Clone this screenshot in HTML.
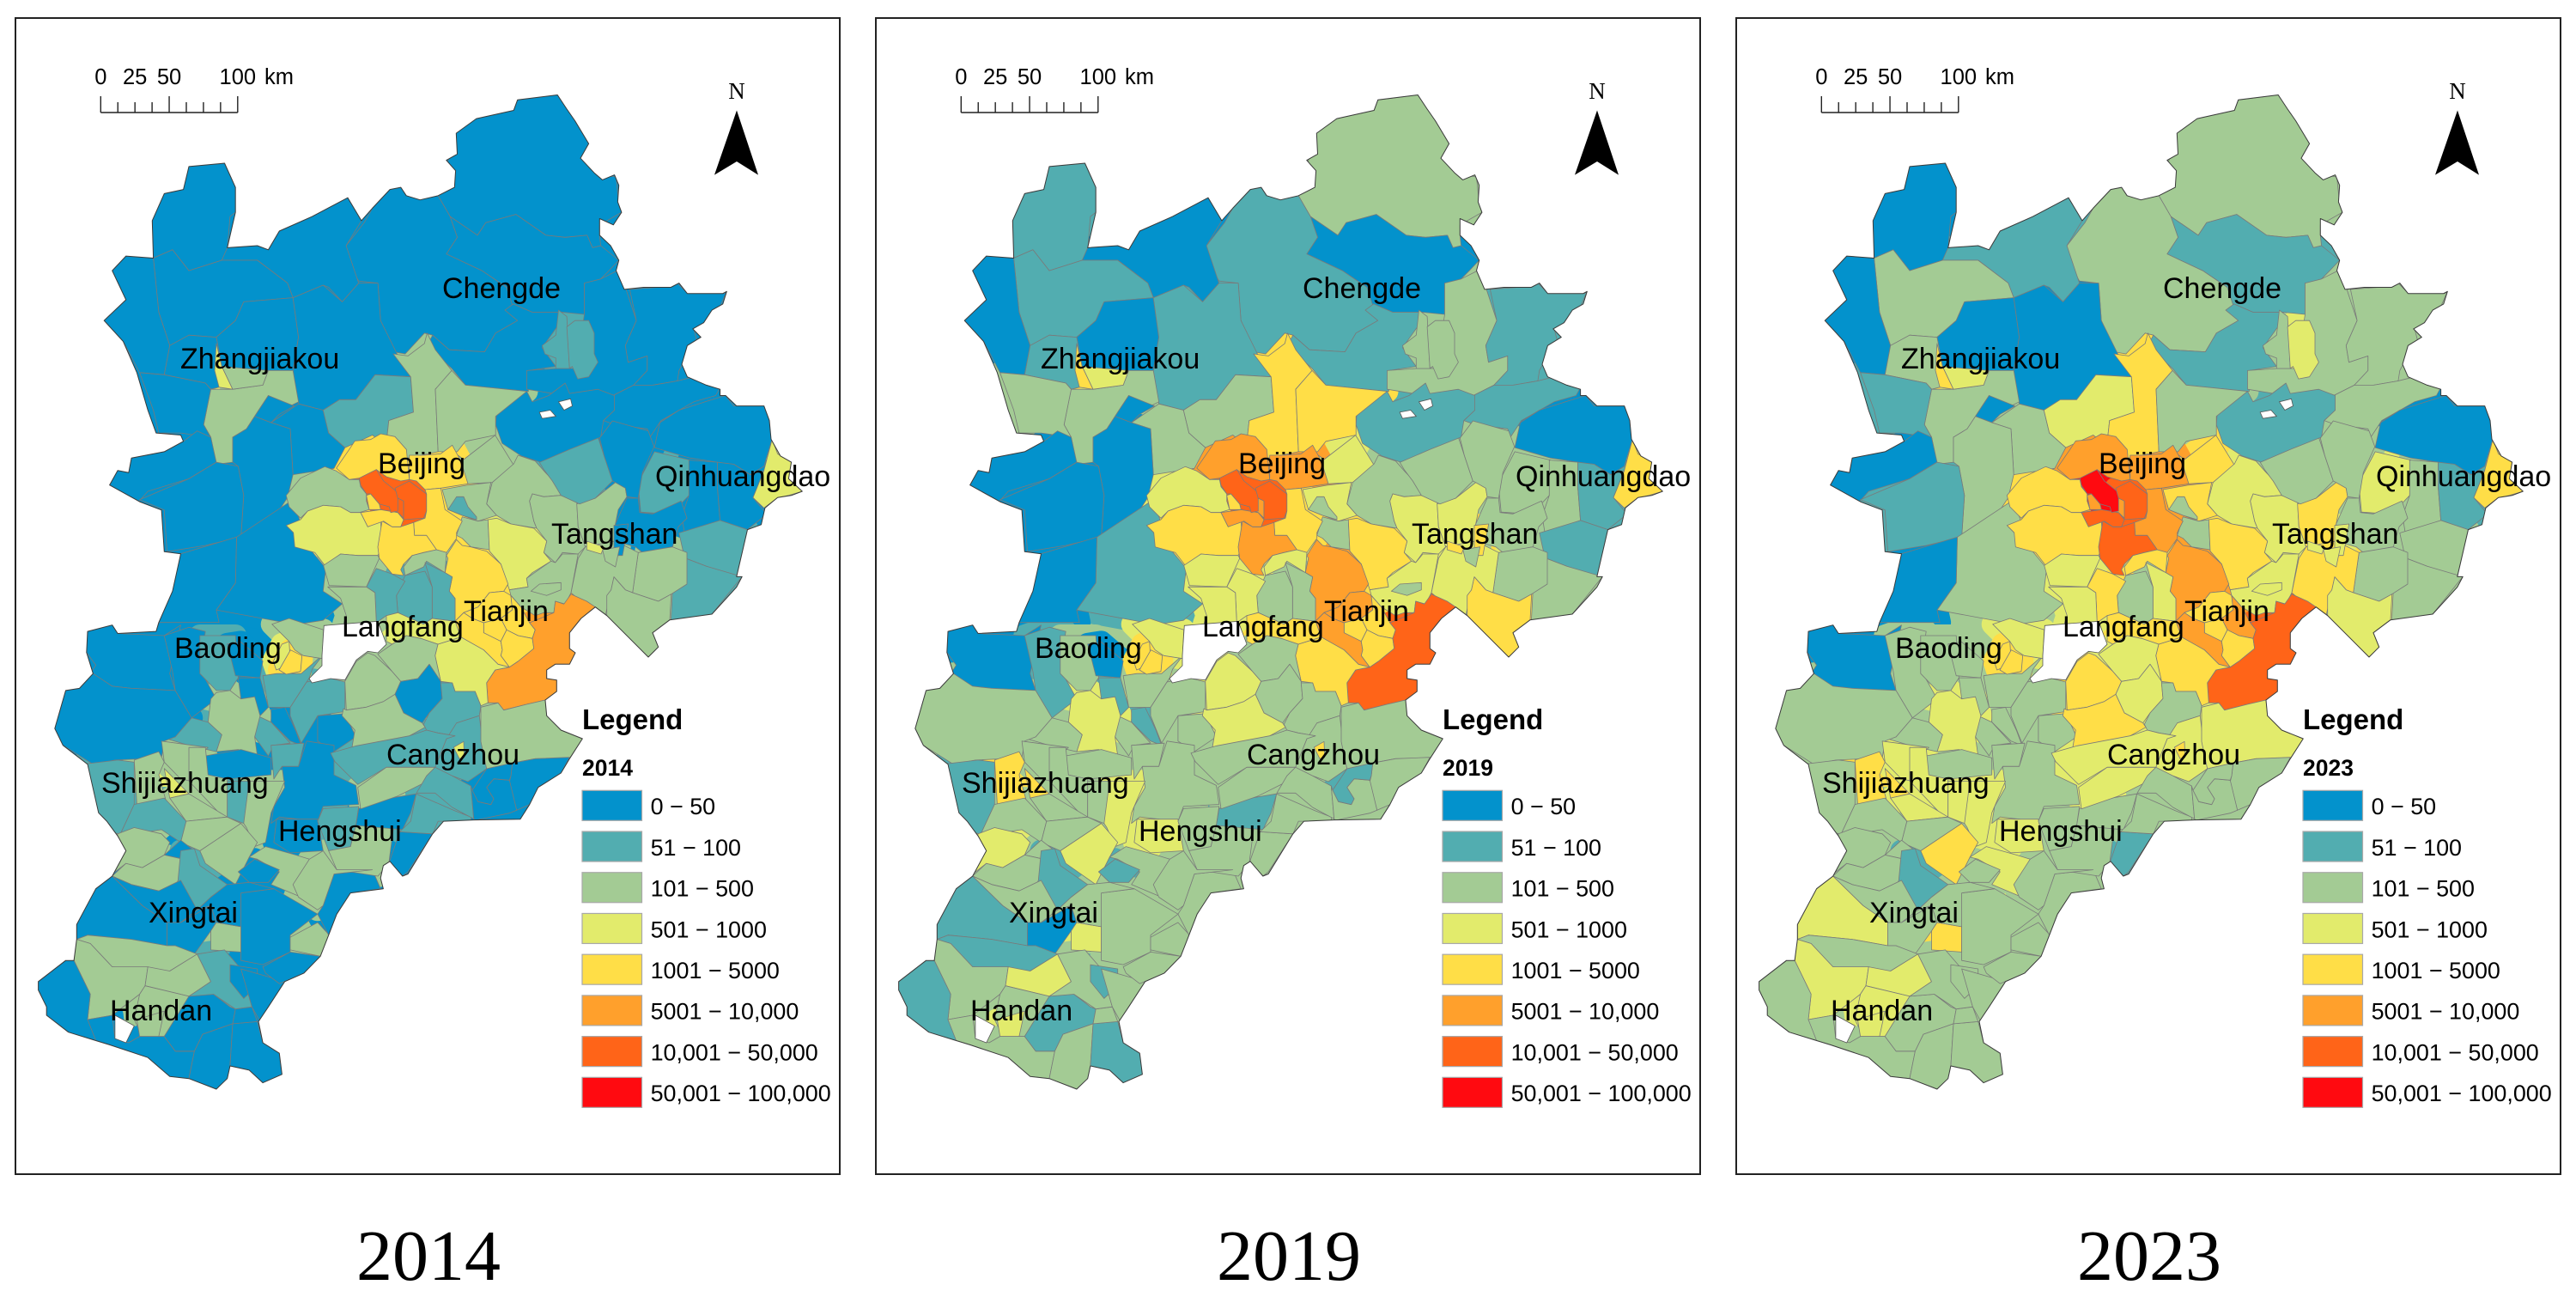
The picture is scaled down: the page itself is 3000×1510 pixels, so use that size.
<!DOCTYPE html>
<html lang="en">
<head>
<meta charset="utf-8">
<title>Choropleth maps 2014, 2019, 2023</title>
<style>
html,body{margin:0;padding:0;background:#fff;}
svg{display:block;}
text{font-family:"Liberation Sans",sans-serif;fill:#000;}
.serif{font-family:"Liberation Serif",serif;}
</style>
</head>
<body>
<svg id="figure" xmlns="http://www.w3.org/2000/svg" width="3000" height="1510" viewBox="0 0 3000 1510">
<rect x="0" y="0" width="3000" height="1510" fill="#fff"/>
</svg>
<script>
// ---------- chart data ----------
const years = [2014, 2019, 2023];
const classLabels = ["0 − 50","51 − 100","101 − 500","501 − 1000","1001 − 5000","5001 − 10,000","10,001 − 50,000","50,001 − 100,000"];
const classUpperBounds = [50,100,500,1000,5000,10000,50000,100000];
const classColors = ["#0392cc","#52adb0","#a3cb94","#e2eb6c","#ffde47","#ffa02c","#ff6418","#ff0a10"];
const scaleLabels = ["0","25","50","100"];
const scaleValues = [0,25,50,100];
const cityLabels = ["Zhangjiakou","Chengde","Beijing","Qinhuangdao","Tangshan","Tianjin","Langfang","Baoding","Cangzhou","Shijiazhuang","Hengshui","Xingtai","Handan"];

// Estimated value per county (order matches the base-map county list below)
const values2014 = [
30,30,30,30,30,80,80,30,30,30, 30,800,80,30,30,80,80,30,30,30,
30,30,30,30,300,30,30,30,30,30, 30,30,30,800,300,80,300,300,
30,30,80,30,30,80,80,30,30,80, 80,30,300,80,30,80,300,800,300,30,
300,80,300,80,300,300,300,300,30,300, 80,30,30,30,300,300,300,300,300,300,
30,30,30,30,30,30,80,30,30,30, 30,300,30,300,30,80,300,300,30,30,
80,30,30,
300,300,300,300,80,30,30,300,300,30, 800,300,300,300,300,80,300,800,300,300,
3000,3000,3000,3000,3000,3000,8000,800,300,800, 3000,3000,3000,3000,3000,3000,30000,30000,30000,300,
80,80,80,800,300,300,300,800,3000,300, 300,30,80,80,300,300,80,300,80,30,
30,30,800];
const values2019 = [
300,30,80,80,300,300,300,80,80,80, 30,3000,300,300,80,80,300,80,30,80,
30,30,80,80,300,300,30,300,30,30, 30,80,30,3000,800,300,3000,3000,
30,80,300,30,80,300,300,80,300,300, 300,300,800,300,300,80,3000,3000,300,300,
300,300,800,300,300,800,300,800,300,300, 80,80,300,30,800,80,300,800,300,800,
80,300,80,300,80,300,300,80,300,300, 300,300,300,300,800,300,300,300,80,300,
300,80,300,
800,300,800,800,300,300,300,300,800,3000, 3000,300,3000,300,800,300,300,3000,800,300,
8000,8000,3000,3000,8000,3000,30000,3000,800,3000, 8000,8000,3000,8000,8000,3000,8000,30000,30000,800,
300,300,800,3000,800,800,800,3000,3000,800, 300,300,300,300,300,800,300,300,300,300,
300,80,3000];
const values2023 = [
300,80,300,80,300,300,800,300,300,80, 30,3000,800,300,80,300,300,30,80,300,
30,30,30,300,300,80,30,300,300,30, 80,300,30,3000,800,800,3000,300,
30,300,300,300,300,300,300,300,300,300, 300,300,800,300,300,300,3000,3000,800,300,
800,800,800,300,800,3000,300,300,300,300, 80,800,300,300,3000,300,800,800,800,800,
300,300,300,300,300,300,300,300,300,300, 300,300,300,800,800,300,300,300,300,80,
300,300,300,
3000,800,800,3000,300,300,300,300,3000,800, 800,800,800,300,3000,300,300,3000,800,800,
8000,3000,8000,3000,8000,3000,30000,3000,3000,3000, 8000,8000,8000,30000,30000,8000,8000,70000,30000,3000,
800,300,3000,3000,800,800,800,3000,3000,3000, 800,800,300,800,800,3000,800,800,300,300,
300,300,3000];

// ---------- base map geometry (county outlines, digitised in three local frames) ----------
const northOutlines = [
"800,470 835,310 870,285 938,265 945,240 1018,228 1050,290 1075,345 1060,380 1100,420 1125,425 1130,490 1135,510 1095,540 1095,565 1097,590 1082,595 1072,565 1032,570 997,565 942,515 887,535 872,565 822,520",
"822,520 872,565 887,535 942,515 997,565 1032,570 1072,565 1082,595 1097,590 1130,625 1112,650 1097,670 1077,690 1067,680 1067,755 1027,750 972,750 937,730 922,745 925,690 880,650 815,610 835,570",
"632,590 665,535 680,500 712,455 732,450 742,470 767,480 800,470 822,520 835,570 815,610 880,650 925,690 945,770 905,800 885,845 820,840 790,805 775,800 740,850 718,845 695,770 690,680 655,675 640,640",
"922,745 937,730 972,750 1027,750 1020,780 990,835 1015,880 965,890 965,940 850,925 825,885 780,830 790,805 820,840 885,845 905,800 945,770",
"1067,680 1097,670 1127,650 1142,690 1162,770 1142,830 1147,870 1182,855 1182,890 1157,925 1112,955 1032,950 962,935 962,890 1017,885 1052,885 1067,755",
"1020,745 1035,760 1040,885 1015,885 1015,860 995,850 990,830 1015,805",
"1035,785 1050,770 1075,770 1085,800 1085,850 1092,870 1075,905 1055,910 1045,880 1040,885",
"1150,695 1202,690 1237,680 1252,700 1322,705 1327,700 1312,745 1297,770 1267,790 1272,815 1252,860 1240,890 1237,915 1192,925 1157,925 1182,890 1182,855 1147,870 1142,830 1162,770",
"1112,955 1157,925 1192,925 1237,915 1267,905 1317,925 1307,950 1267,965 1207,1010 1187,1050 1182,1030 1122,1020 1102,1010 1122,985",
"907,985 937,965 962,940 972,965 1002,950 1032,920 1040,945 1092,935 1122,950 1122,985 1102,1010 1097,1050 1052,1075 987,1110 952,1095 917,1065 905,1020",
"1195,1075 1205,1015 1240,985 1300,960 1325,950 1340,975 1395,975 1405,1010 1410,1055 1395,1120 1370,1140 1340,1115 1310,1110 1260,1100",
"1410,1055 1420,1090 1445,1110 1440,1150 1465,1180 1440,1190 1420,1195 1395,1220 1375,1195 1395,1130",
"1195,1085 1260,1105 1258,1190 1225,1235 1170,1230 1165,1160",
"1258,1105 1310,1110 1310,1170 1315,1250 1250,1280 1245,1240 1258,1190",
"1310,1110 1340,1115 1370,1140 1395,1130 1375,1195 1400,1235 1365,1272 1315,1250 1310,1170",
"1240,1280 1315,1250 1365,1272 1345,1385 1290,1360 1250,1340",
"1250,1340 1290,1360 1355,1385 1300,1475 1225,1495 1228,1420",
"345,400 410,392 430,450 430,510 420,520 415,600 405,625 345,650 315,600 280,620 278,530 300,465 335,455 335,420",
"415,595 470,590 490,600 510,555 570,520 635,475 660,530 632,590 655,680 625,725 600,690 590,685 535,715 525,680 470,625 405,625",
"280,620 315,600 345,650 405,625 470,625 525,680 535,715 445,725 430,770 395,810 345,805 310,830 290,750",
"205,650 230,615 280,620 290,750 310,830 300,900 255,895 225,820 190,770 230,720 215,680",
"395,810 430,770 445,725 535,715 545,810 535,890 490,890 405,880",
"535,715 590,685 625,725 655,680 690,680 695,770 725,850 750,905 685,900 650,960 620,960 590,985 545,970 535,890 545,810",
"310,830 345,805 395,810 405,880 400,930 385,935 375,920 300,900",
"385,935 425,935 480,925 490,890 535,890 545,965 530,975 490,950 470,990 450,1030 425,1050 425,1110 395,1115 385,1050 372,1020",
"255,895 300,900 375,920 385,935 372,1020 385,1050 330,1040 290,1040 280,985",
"470,990 490,950 537,975 510,995 495,1015 465,1000",
"495,1015 545,970 590,985 600,1040 630,1075 610,1125 535,1140 530,1030",
"425,1110 425,1050 450,1030 465,1000 495,1015 530,1030 535,1140 525,1195 495,1255 440,1290 445,1190 435,1120",
"200,1165 215,1130 235,1135 240,1100 300,1085 335,1060 360,1035 385,1050 395,1110 345,1150 270,1180 250,1210",
"255,1200 345,1150 395,1110 435,1120 445,1190 440,1290 375,1310 305,1325 300,1225",
"432,1290 535,1200 550,1260 525,1265 570,1325 595,1365 590,1420 625,1450 590,1490 540,1500 395,1465 430,1400",
"330,1330 432,1290 430,1400 395,1465 400,1495 290,1495 300,1430",
"395,825 405,880 425,935 400,930 392,890",
"405,880 490,890 480,925 425,935",
"590,985 620,960 650,960 685,900 750,905 755,990 710,1010 705,1070 680,1045 630,1075 600,1040",
"718,850 745,855 775,825 780,800 795,840 825,890 795,935 800,1085 745,1100 705,1070 710,1010 755,990 750,905",
"825,890 850,925 962,940 905,1000 905,1045 850,1060 835,1085 800,1085 795,935"
];
const southOutlines = [
"160,-10 205,-25 215,-5 300,0 330,-25 310,90 320,130 240,125 205,120 165,90 175,70 158,40",
"300,0 345,-20 375,-10 365,80 395,150 350,195 320,130 315,85",
"365,0 430,0 435,100 420,130 395,130 365,90",
"415,20 440,15 480,60 475,100 430,95",
"435,100 475,100 490,170 475,190 440,150",
"480,95 505,90 550,90 590,45 570,80 565,100 530,170 490,170",
"560,110 600,100 630,110 630,180 580,190 550,255 530,190 530,170",
"495,175 520,170 540,225 550,260 530,250 495,205",
"580,190 630,185 650,240 610,275 580,250",
"470,190 495,205 530,255 500,260 490,285 465,240",
"495,260 555,255 545,310 515,310 500,340",
"515,310 545,310 560,250 610,260 610,330 650,355 655,400 590,405 580,440 510,430 495,445 500,405 520,360",
"385,150 395,135 420,130 440,150 465,145 475,190 465,240 470,285 435,270 395,275 405,235 380,205",
"320,240 350,195 380,205 405,235 395,275 345,260 305,245",
"100,220 120,130 145,125 170,90 205,120 240,125 320,130 350,195 320,240 300,250 295,290 210,295 170,305 115,260",
"150,305 215,295 245,300 245,400 220,470 190,465 180,430 165,375",
"245,295 290,275 300,300 290,330 305,400 270,410 250,400",
"300,315 345,375 310,385",
"295,250 380,265 350,300 350,345 330,340 300,300",
"375,285 440,270 495,290 495,330 415,340 380,330",
"345,265 375,265 380,330 415,340 415,430 400,420 345,345",
"415,345 455,345 450,430 445,445 415,430",
"455,345 520,345 495,420 485,490 465,500 450,455 445,445",
"245,400 300,385 340,440 330,490 295,460 245,470 220,470",
"310,385 345,375 415,430 340,440",
"365,510 440,445 470,490 455,525 430,590 375,540",
"340,440 415,430 440,445 365,510 330,490",
"215,470 245,455 295,470 310,490 300,520 260,550 230,540 200,570",
"300,520 330,485 355,510 335,530",
"205,570 230,540 260,550 300,520 335,530 330,580 290,605 240,590",
"330,510 355,505 365,545 415,590 385,620 360,650 315,610 325,580",
"140,685 175,600 205,570 260,640 305,680 305,735 240,720 160,710 140,720",
"205,570 240,590 290,605 330,580 360,650 330,680 305,680 260,640",
"305,680 330,680 385,640 395,680 385,700 355,755 320,735 305,735",
"385,700 395,680 440,690 440,750 385,745",
"140,720 160,710 240,720 305,735 320,735 360,755 310,795 205,785 165,730",
"135,770 140,720 165,730 205,785 270,785 265,830 255,850 205,900 160,910 165,850",
"270,785 310,795 360,755 385,820 345,855 265,830",
"255,850 265,830 345,855 300,950 260,950 245,910",
"250,910 300,890 290,950 255,950",
"70,820 120,770 135,770 165,850 160,910 190,950 200,960 175,960 125,940 85,900 85,880 70,840",
"160,910 205,900 210,955 235,965 255,950 300,950 320,985 355,985 345,1050 310,1045 270,1000 200,970 175,960",
"300,950 345,855 390,850 420,880 430,885 425,920 370,945 355,985 320,985",
"355,985 370,945 425,920 420,1020 415,1050 395,1075 385,1070 345,1050",
"425,920 470,915 480,965 510,990 515,1040 480,1060 455,1030 420,1020",
"430,885 460,880 470,915 425,920",
"360,755 410,745 440,790 460,880 430,885 390,850 345,855 385,820",
"420,780 470,790 470,830 445,860 420,820",
"440,790 520,820 475,915 460,880",
"440,610 500,600 580,660 530,710 530,750 480,780 440,770 440,690",
"480,785 530,750 585,760 555,800 510,825 485,800",
"530,715 580,680 605,715 585,760 530,745",
"590,640 610,565 680,555 695,600 640,610 615,660 600,710 580,660",
"455,525 485,500 540,520 565,530 540,585 550,620 495,590 510,560 470,530",
"505,435 580,435 590,510 530,515 500,490",
"590,410 655,405 650,450 640,500 600,510 580,440",
"650,450 720,440 710,540 690,570 615,555 600,510 640,500",
"535,590 565,530 590,510 615,555 680,555 610,565 590,640 580,650 545,620",
"655,410 690,390 760,375 750,420 735,460 650,450",
"710,540 730,465 790,470 745,560 735,570",
"750,440 760,375 830,415 860,430 860,440 800,440 790,470 730,465",
"435,560 465,530 510,555 490,585 455,585",
"415,590 455,585 500,600 440,610 440,690 395,680 385,640 360,650 385,620"
];
const centralOutlines = [
"720,165 830,80 895,185 820,245 730,250 700,150",
"820,245 895,180 910,150 970,170 1005,210 1050,255 1060,290 1000,295 960,285 950,310 965,380 975,405 885,390 835,360 800,320",
"950,310 960,285 1000,295 1060,290 1115,310 1120,400 1145,470 1120,495 1065,490 1040,525 1000,490 1010,450 975,405 965,380",
"1115,320 1180,300 1250,245 1285,265 1290,295 1260,340 1250,390 1250,450 1145,470 1120,400",
"985,175 1090,130 1190,90 1210,150 1240,240 1180,300 1125,320 1060,290 1030,240 1000,200",
"1195,90 1240,30 1365,65 1385,120 1345,210 1330,300 1290,295 1285,265 1250,245 1240,240 1210,150",
"1250,390 1290,300 1330,300 1335,350 1380,355 1480,310 1500,370 1470,400 1450,470 1345,490 1320,470 1250,450",
"1310,630 1330,490 1450,470 1500,490 1500,600 1445,635 1400,660",
"1095,630 1120,510 1145,470 1250,450 1330,490 1310,630 1285,620 1245,575 1235,620 1215,710 1175,680 1130,660",
"1245,395 1295,390 1275,500 1245,500",
"1150,450 1210,470 1200,495 1150,480",
"1205,480 1265,470 1250,540 1215,520",
"1220,640 1235,620 1245,575 1285,620 1310,630 1400,660 1445,635 1440,725 1380,770 1400,820 1365,855 1310,800 1220,710",
"1210,715 1220,710 1310,800 1240,770",
"645,270 730,255 815,245 800,320 835,360 770,380 715,360 665,340",
"665,340 695,295 720,295 735,330 765,365 765,375 715,360",
"715,365 770,380 805,375 810,480 745,470 715,440 695,430",
"805,375 835,370 885,390 965,405 1010,450 1000,490 1025,520 960,560 940,580 945,610 880,620 850,530 810,485",
"880,620 945,610 940,580 1025,520 1040,525 1065,495 1120,495 1095,630 1075,670 1040,660 1035,700 1000,700 970,710 920,680 885,640",
"955,625 985,600 1060,595 1060,620 1010,640",
"660,500 695,445 715,465 745,470 800,485 850,530 875,600 860,625 810,630 770,680 720,700 690,730 690,650 670,625 680,575 655,560 665,510",
"720,700 770,680 810,630 860,625 885,640 890,690 850,720 790,735 750,720",
"885,640 920,680 950,735 970,760 960,790 910,780 870,760 850,720 890,690",
"790,735 850,720 870,760 850,800 790,770",
"690,730 720,700 750,720 790,735 790,770 850,800 855,830 850,850 880,890 840,880 790,830 710,785",
"850,800 870,760 910,780 960,790 965,825 910,870 880,890 850,850 855,830",
"950,735 1000,715 1035,700 1040,660 1070,670 1095,635 1150,660 1180,680 1130,720 1090,770 1090,825 1110,840 1090,880 1040,880 1010,900 1010,930 1045,935 1045,975 1005,1005 940,1020 860,1040 840,1015 805,1015 800,945 830,900 880,890 910,870 965,825 960,790 970,760",
"630,810 710,785 790,830 840,880 880,890 830,900 800,945 805,1015 780,1025 760,975 690,975 680,945 640,940 620,850",
"100,290 150,230 235,190 275,205 320,235 355,235 360,260 380,285 380,310 390,340 355,350 325,350 290,330 230,325 175,345 150,370 110,330",
"100,395 150,375 175,345 230,325 290,330 325,350 360,350 385,400 430,380 435,470 420,500 350,500 290,495 270,510 235,535 200,490 130,470 125,420",
"275,195 320,130 340,100 395,95 430,75 480,85 520,130 530,235 500,240 450,225 415,200 355,230 320,235",
"530,150 580,150 640,145 680,115 710,170 735,250 640,265 585,270 555,240 530,235",
"585,270 640,265 655,340 715,380 695,420 695,440 660,490 625,480 590,430 548,430 545,385 585,370 590,345 590,285",
"435,380 470,400 500,400 545,385 548,430 590,430 625,480 580,490 540,500 510,530 500,550 510,570 470,565 425,510 420,470",
"360,350 430,340 490,350 510,375 500,400 470,400 440,380 385,400",
"380,290 395,285 425,320 430,340 390,340",
"465,300 495,300 510,310 510,370 490,350 465,345",
"355,230 415,200 440,240 490,280 490,345 465,350 460,330 425,320 395,285 380,285 360,255",
"480,265 530,240 590,285 590,345 580,370 510,375 510,310 490,300",
"510,540 540,500 580,490 625,480 660,490 655,560 590,520 580,540 515,570",
"585,525 655,560 680,575 670,625 690,650 690,730 610,720 610,610",
"515,570 585,555 610,610 610,720 580,740 490,700 485,640",
"380,610 415,545 470,565 515,590 485,640 490,700 450,710 415,735 410,630",
"450,710 490,700 580,740 610,720 690,730 710,785 630,810 570,790 520,780 470,810 450,800",
"230,535 290,495 350,500 420,500 425,510 380,610 250,605",
"245,610 380,610 410,630 415,735 300,740 310,710 290,650",
"50,740 110,720 230,760 225,860 160,850 130,830 110,800 80,770",
"85,810 110,800 115,880 65,900 55,870",
"115,830 155,850 150,905 100,915 75,900",
"410,850 470,905 500,940 480,985 440,1010 380,1030 310,1040 305,940 345,870 385,840",
"420,845 470,810 520,780 570,790 630,810 620,850 640,940 600,880 560,930 500,940 470,905",
"480,985 500,940 560,930 600,880 640,940 645,1000 600,1050 575,1085 510,1050",
"580,1090 600,1050 645,1000 640,945 680,945 690,975 760,975 780,1025 775,1060 695,1085 690,1130 630,1120 590,1110",
"695,1085 775,1060 785,1150 800,1245 735,1290 680,1270 620,1240 660,1140",
"780,1030 840,1015 860,1040 940,1020 1005,1005 1010,1060 1060,1110 1135,1140 1090,1210 970,1210 890,1225 800,1245 780,1150",
"300,1035 310,1040 380,1030 440,1010 480,985 510,1050 575,1085 585,1100 530,1130 500,1140 350,1165 330,1170 340,1110 295,1060",
"530,1130 590,1110 630,1120 690,1130 660,1140 620,1240 540,1240 450,1240 350,1300 340,1290 270,1220 255,1190 345,1165",
"350,1310 450,1240 620,1240 600,1270 590,1290 490,1340 360,1385",
"590,1270 620,1240 680,1270 745,1305 755,1420 680,1380 620,1330 555,1330",
"890,1225 970,1210 1090,1205 1060,1260 980,1310 950,1370 905,1390 880,1290 885,1270",
"745,1305 750,1320 770,1360 815,1370 825,1350 800,1310 825,1280 880,1285 905,1390 880,1400 760,1425 755,1420",
"800,1245 890,1225 885,1270 880,1285 825,1280 800,1310 825,1350 815,1370 770,1360 750,1320 780,1275",
"685,1170 720,1150 722,1205 705,1210"
];
const holeOutlines = [
{f:"N",p:"985,990 1005,985 1015,1000 990,1005"},
{f:"N",p:"1020,965 1042,958 1045,975 1030,985"},
{f:"S",p:"210,900 245,925 230,965 210,955"},
{f:"C",p:"232,745 290,740 420,730 450,810 420,840 385,835 345,865 305,935 255,930 190,945 180,930 225,885 225,850"}
];
// Province outer boundary, traced clockwise through the same local frames
const silhouetteSegments = [
{f:"N",p:"290,1495 315,1420 330,1330 300,1325 295,1225 255,1205 200,1165 215,1130 235,1135 240,1100 300,1085 335,1060 330,1045 285,1040 270,985 250,895 225,820 190,770 230,720 205,650 230,615 280,620 278,530 300,465 335,455 345,400 410,392 430,450 430,510 415,595 470,590 490,600 510,555 570,520 635,475 660,530 680,500 712,455 732,450 742,470 767,480 800,470 830,450 832,410 815,385 835,370 833,320 870,285 938,265 945,240 1018,228 1035,262 1050,290 1075,345 1060,380 1085,415 1100,432 1122,420 1130,445 1128,485 1135,510 1120,540 1095,525 1095,565 1115,590 1130,625 1125,650 1140,695 1175,690 1225,690 1240,680 1255,705 1320,705 1327,700 1320,730 1300,745 1285,775 1265,790 1280,810 1255,830 1245,875 1255,905 1290,925 1315,935 1315,950 1325,950 1345,975 1395,975 1405,1010 1408,1055 1425,1095 1445,1110 1440,1150 1465,1180 1445,1190 1420,1195 1397,1220 1390,1260 1365,1272 1345,1385 1355,1385 1345,1410 1300,1475"},
{f:"C",p:"1440,725 1380,770 1400,820 1365,855 1310,800 1220,710 1180,680 1130,720 1090,770 1090,825 1110,840 1090,880 1040,880 1010,900 1010,930 1045,935 1045,975 1005,1005 1010,1060 1060,1110 1135,1140 1090,1210 1060,1260 980,1310 950,1370"},
{f:"S",p:"950,435 865,437 810,440 790,470 745,565 735,570 712,535 700,545 695,575 700,600 640,610 615,660 600,710 585,760 555,800 520,820 490,880 472,915 480,965 510,990 515,1040 480,1060 455,1030 420,1020 415,1050 395,1075 385,1070 345,1050 310,1045 270,1000 200,970 175,960 125,940 85,900 85,880 70,840 70,820 120,770 135,770 140,720 140,685 175,600 205,570 230,510 215,475 195,440 180,420 160,305 115,260 100,220 120,130 145,125 170,90 158,40 160,-10 205,-25 215,-5 285,-10"}
];

// ---------- helpers ----------
const SVGNS = "http://www.w3.org/2000/svg";
const root = document.getElementById("figure");
function project(frame, X, Y){
  if(frame==="N") return [X/1.568, Y/2.063];
  if(frame==="S") return [X/1.568, 740+Y/2.036];
  return [300+X/3, 480+Y/3];
}
function toPoints(frame, str){
  return str.split(" ").map(function(t){
    const a=t.split(",");
    const q=project(frame,+a[0],+a[1]);
    return q[0].toFixed(1)+","+q[1].toFixed(1);
  }).join(" ");
}
function classOf(v){
  for(let i=0;i<classUpperBounds.length;i++){ if(v<=classUpperBounds[i]) return i; }
  return classUpperBounds.length-1;
}
function make(tag, parent, attrs){
  const e=document.createElementNS(SVGNS,tag);
  for(const k in attrs) e.setAttribute(k,attrs[k]);
  parent.appendChild(e);
  return e;
}
function scaleX(km){ return 117.3 + km/100*159.5; }
function modeClass(values){
  const counts = classColors.map(function(){return 0;});
  values.forEach(function(v){counts[classOf(v)]++;});
  return counts.indexOf(Math.max.apply(null,counts));
}

const counties = []
  .concat(northOutlines.map(function(p){return toPoints("N",p);}))
  .concat(southOutlines.map(function(p){return toPoints("S",p);}))
  .concat(centralOutlines.map(function(p){return toPoints("C",p);}));
const holes = holeOutlines.map(function(h){return toPoints(h.f,h.p);});
const silhouette = silhouetteSegments.map(function(s){return toPoints(s.f,s.p);}).join(" ");
const seriesByYear = [values2014, values2019, values2023];
const panelOffsets = [0,1002,2004];
const labelX = [210,515,440,763,642,540,398,203,450,118,324,173,128];
const labelY = [429,347,551,566,633,723,741,766,890,923,979,1074,1188];

const defs = make("defs", root, {});
const clip = make("clipPath", defs, {id:"province-clip"});
make("polygon", clip, {points:silhouette});

seriesByYear.forEach(function(values, pi){
  const year = years[pi];
  const g = make("g", root, {transform:"translate("+panelOffsets[pi]+",0)"});
  
  

  const frame = make("rect", g, {x:18,y:21,width:960,height:1346,fill:"#fff",stroke:"#222","stroke-width":2});
  
  

  const mapG = make("g", g, {"clip-path":"url(#province-clip)"});
  
  

  const base = make("polygon", mapG, {points:silhouette,fill:classColors[modeClass(values)]});
  
  

  // colour bleed layer closes digitising gaps; clipped to the province outline
  counties.forEach(function(pts,i){
    const c = classColors[classOf(values[i])];
    const u = make("polygon", mapG, {points:pts,fill:c,stroke:c,"stroke-width":26,"stroke-linejoin":"round"});
    
    
  });
  counties.forEach(function(pts,i){
    const c = classColors[classOf(values[i])];
    const r = make("polygon", mapG, {points:pts,fill:c,stroke:"#7a7a7a","stroke-width":0.8,"stroke-linejoin":"round"});
    
    
  });
  holes.forEach(function(pts){
    const h = make("polygon", mapG, {points:pts,fill:"#fff",stroke:"#555","stroke-width":0.8});
    
    
  });
  const outline = make("polygon", g, {points:silhouette,fill:"none",stroke:"#3a3a3a","stroke-width":1,"stroke-linejoin":"round"});
  
  

  // city labels
  cityLabels.forEach(function(name,i){
    const t = make("text", g, {x:labelX[i],y:labelY[i],"font-size":34});
    t.textContent = name;
    
    
  });

  // scale bar
  const bar = make("path", g, {d:"M"+scaleX(0)+" 131H"+scaleX(100),fill:"none",stroke:"#222","stroke-width":1.6});
  
  
  for(let k=0;k<=8;k++){
    const km = k*12.5;
    const major = (k===0||k===4||k===8);
    const tick = make("line", g, {x1:scaleX(km),x2:scaleX(km),y1:major?112:119,y2:131,stroke:"#222","stroke-width":1.4});
    
    
  }
  scaleLabels.forEach(function(s,i){
    const t = make("text", g, {x:scaleX(scaleValues[i]),y:98,"font-size":25.5,"text-anchor":"middle"});
    t.textContent = s;
    
    
  });
  const km = make("text", g, {x:308,y:98,"font-size":25.5});
  km.textContent = "km";
  
  

  // north arrow
  const n = make("text", g, {x:858,y:115,"font-size":27,"text-anchor":"middle","class":"serif"});
  n.textContent = "N";
  
  
  const arrow = make("polygon", g, {points:"858,128.5 883,203.6 858,188 832,203.6",fill:"#000"});
  
  

  // legend
  const lt = make("text", g, {x:678,y:849,"font-size":33,"font-weight":"bold"});
  lt.textContent = "Legend";
  
  
  const ly = make("text", g, {x:678,y:903,"font-size":26.5,"font-weight":"bold"});
  ly.textContent = String(year);
  
  
  classLabels.forEach(function(lbl,i){
    const top = 920.3 + i*47.72;
    const sw = make("rect", g, {x:678,y:top,width:69.5,height:35,fill:classColors[i],stroke:"#a8a8a8","stroke-width":1.2});
    
    
    const t = make("text", g, {x:757.6,y:top+27.8,"font-size":26.9});
    t.textContent = lbl;
    
    
  });

  // caption
  const cap = make("text", g, {x:499,y:1490,"font-size":84,"text-anchor":"middle","class":"serif"});
  cap.textContent = String(year);
  
  
});
</script>
</body>
</html>
